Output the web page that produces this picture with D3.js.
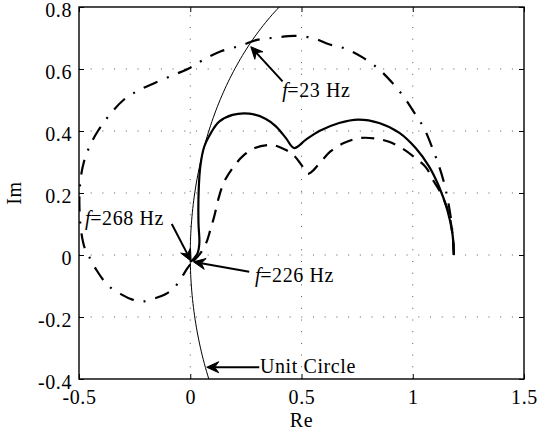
<!DOCTYPE html>
<html>
<head>
<meta charset="utf-8">
<script src="https://cdn.jsdelivr.net/npm/d3@7"></script>
<style>
  html, body { margin: 0; padding: 0; background: #fff; }
  svg { display: block; }
  svg text { font-family: "Liberation Serif", "Times New Roman", Times, "DejaVu Serif", serif !important; fill: #000; letter-spacing: 0.6px; }
</style>
</head>
<body>
<svg id="chart" width="537" height="435"></svg>
<script>
// ---------- data ----------
const xTicks = [-0.5, 0, 0.5, 1, 1.5];
const yTicks = [-0.4, -0.2, 0, 0.2, 0.4, 0.6, 0.8];
const xTickLabels = ["-0.5", "0", "0.5", "1", "1.5"];
const yTickLabels = ["-0.4", "-0.2", "0", "0.2", "0.4", "0.6", "0.8"];
const xLabel = "Re";
const yLabel = "Im";

// solid curve [Re, Im]
const solidCurve = [
  [1.185, 0.0], [1.178, 0.071], [1.155, 0.146], [1.118, 0.221], [1.073, 0.286],
  [1.013, 0.345], [0.94, 0.394], [0.849, 0.426], [0.755, 0.437], [0.669, 0.426],
  [0.58, 0.40], [0.52, 0.372], [0.467, 0.345],
  [0.43, 0.377], [0.385, 0.415], [0.34, 0.439], [0.265, 0.456], [0.19, 0.452],
  [0.13, 0.43], [0.093, 0.394], [0.063, 0.35], [0.046, 0.29], [0.038, 0.21],
  [0.037, 0.103], [0.041, 0.039], [0.033, 0.006], [0.012, -0.015], [0.003, -0.022]
];

// dashed curve [Re, Im]
const dashedCurve = [
  [1.185, 0.0], [1.178, 0.071], [1.16, 0.14], [1.126, 0.20], [1.095, 0.237],
  [1.06, 0.282], [1.01, 0.314], [0.95, 0.345], [0.89, 0.366], [0.83, 0.376],
  [0.76, 0.377], [0.69, 0.361], [0.63, 0.334], [0.58, 0.295], [0.545, 0.268],
  [0.527, 0.262],
  [0.505, 0.285], [0.46, 0.325], [0.42, 0.342], [0.365, 0.355], [0.29, 0.345],
  [0.235, 0.318], [0.19, 0.28], [0.153, 0.237], [0.13, 0.19], [0.108, 0.125],
  [0.09, 0.08], [0.075, 0.045], [0.05, 0.01], [0.02, -0.015], [0.004, -0.024]
];

// dash-dot curve [Re, Im]
const dashDotCurve = [
  [1.185, 0.0], [1.18, 0.06], [1.17, 0.125], [1.157, 0.18], [1.138, 0.24],
  [1.113, 0.297], [1.084, 0.353], [1.05, 0.41], [1.006, 0.46], [0.96, 0.51],
  [0.906, 0.557], [0.85, 0.598], [0.78, 0.635], [0.70, 0.665], [0.624, 0.68],
  [0.55, 0.70], [0.467, 0.707], [0.38, 0.701], [0.30, 0.694], [0.225, 0.675],
  [0.138, 0.657], [0.06, 0.63], [0.0, 0.604], [-0.07, 0.582], [-0.16, 0.555],
  [-0.235, 0.53], [-0.30, 0.50], [-0.365, 0.45], [-0.415, 0.40], [-0.453, 0.35],
  [-0.478, 0.30], [-0.492, 0.25], [-0.498, 0.19], [-0.497, 0.135], [-0.49, 0.075],
  [-0.475, 0.024], [-0.455, -0.005], [-0.42, -0.05], [-0.37, -0.098], [-0.31, -0.127],
  [-0.26, -0.144], [-0.215, -0.15], [-0.16, -0.14], [-0.11, -0.126], [-0.072, -0.106],
  [-0.042, -0.076], [-0.015, -0.045], [0.0, -0.03]
];

// reference unit circle (centre, radius) in data units
const unitCircle = { cx: 1, cy: 0, r: 1 };

// annotations: arrow tail/tip and text anchor, in data units
const annotations = [
  { label: "=23 Hz", italic: "f", text: [0.413, 0.51], tail: [0.415, 0.56], tip: [0.272, 0.672] },
  { label: "=268 Hz", italic: "f", text: [-0.473, 0.097], tail: [-0.083, 0.1], tip: [0.004, -0.02] },
  { label: "=226 Hz", italic: "f", text: [0.291, -0.088], tail: [0.265, -0.054], tip: [0.014, -0.022] },
  { label: "Unit Circle", italic: "", text: [0.313, -0.382], tail: [0.31, -0.362], tip: [0.074, -0.362] }
];

// ---------- layout ----------
const svg = d3.select("#chart");
const L = 79, R = 524, T = 7, B = 379;
const x = d3.scaleLinear().domain([-0.5, 1.5]).range([L, R]);
const y = d3.scaleLinear().domain([-0.4, 0.8]).range([B, T]);
const FONT = '"Liberation Serif", "Times New Roman", serif';

svg.append("defs").append("clipPath").attr("id", "clip")
  .append("rect").attr("x", L).attr("y", T).attr("width", R - L).attr("height", B - T);

// grid
const grid = svg.append("g").attr("stroke", "#444").attr("stroke-width", 0.9)
  .attr("stroke-dasharray", "1,10.7");
xTicks.slice(1, -1).forEach(v => {
  grid.append("line").attr("x1", x(v)).attr("x2", x(v)).attr("y1", B).attr("y2", T);
});
yTicks.slice(1, -1).forEach(v => {
  grid.append("line").attr("x1", L).attr("x2", R).attr("y1", y(v)).attr("y2", y(v));
});

// axes (D3 axes, inward ticks)
const tickLen = 5;
const fs = 20;
const axB = svg.append("g").attr("transform", `translate(0,${B})`)
  .call(d3.axisBottom(x).tickValues(xTicks).tickSize(-tickLen).tickPadding(10)
    .tickFormat((d, i) => xTickLabels[i]));
const axT = svg.append("g").attr("transform", `translate(0,${T})`)
  .call(d3.axisTop(x).tickValues(xTicks).tickSize(-tickLen).tickFormat(""));
const axL = svg.append("g").attr("transform", `translate(${L},0)`)
  .call(d3.axisLeft(y).tickValues(yTicks).tickSize(-tickLen).tickPadding(7)
    .tickFormat((d, i) => yTickLabels[i]));
const axR = svg.append("g").attr("transform", `translate(${R},0)`)
  .call(d3.axisRight(y).tickValues(yTicks).tickSize(-tickLen).tickFormat(""));
[axB, axT, axL, axR].forEach(g => {
  g.attr("font-family", FONT).attr("font-size", fs);
  g.select(".domain").remove();
  g.selectAll(".tick line").attr("stroke", "#000").attr("stroke-width", 1);
  g.selectAll("text").attr("font-family", FONT).attr("font-size", fs).attr("fill", "#000");
});
axB.selectAll(".tick text").attr("dy", "0.72em").attr("y", 11);
axL.selectAll(".tick text").attr("dy", "0.48em");

// box
svg.append("rect").attr("x", L).attr("y", T).attr("width", R - L).attr("height", B - T)
  .attr("fill", "none").attr("stroke", "#000").attr("stroke-width", 1.4);

// axis labels
svg.append("text").attr("x", x(0.5)).attr("y", 427).attr("text-anchor", "middle")
  .attr("font-family", FONT).attr("font-size", fs).text(xLabel);
svg.append("text").attr("transform", `translate(21,${(T + B) / 2}) rotate(-90)`)
  .attr("text-anchor", "middle").attr("font-family", FONT).attr("font-size", fs).text(yLabel);

// curves
const line = d3.line().x(d => x(d[0])).y(d => y(d[1])).curve(d3.curveCatmullRom.alpha(0.5));
const plot = svg.append("g").attr("clip-path", "url(#clip)");

// unit circle points
const t0 = Math.PI - Math.asin(0.8), t1 = Math.PI + Math.asin(0.4);
const circPts = d3.range(0, 101).map(i => {
  const t = t0 + (t1 - t0) * i / 100;
  return [unitCircle.cx + unitCircle.r * Math.cos(t), unitCircle.cy + unitCircle.r * Math.sin(t)];
});
plot.append("path").attr("d", d3.line().x(d => x(d[0])).y(d => y(d[1]))(circPts))
  .attr("fill", "none").attr("stroke", "#000").attr("stroke-width", 1);

plot.append("path").attr("d", line(dashDotCurve)).attr("fill", "none")
  .attr("stroke", "#000").attr("stroke-width", 2.2).attr("stroke-dasharray", "15,10,2,10");
plot.append("path").attr("d", line(dashedCurve)).attr("fill", "none")
  .attr("stroke", "#000").attr("stroke-width", 2.2).attr("stroke-dasharray", "13,9");
plot.append("path").attr("d", line(solidCurve)).attr("fill", "none")
  .attr("stroke", "#000").attr("stroke-width", 2.2).attr("stroke-linejoin", "round");

// annotations
annotations.forEach(a => {
  const x1 = x(a.tail[0]), y1 = y(a.tail[1]), x2 = x(a.tip[0]), y2 = y(a.tip[1]);
  const ang = Math.atan2(y2 - y1, x2 - x1);
  const hl = 12, hw = 5.5, notch = 8;
  const bx = x2 - hl * Math.cos(ang), by = y2 - hl * Math.sin(ang);
  const nx = x2 - notch * Math.cos(ang), ny = y2 - notch * Math.sin(ang);
  const px = -Math.sin(ang), py = Math.cos(ang);
  svg.append("line").attr("x1", x1).attr("y1", y1).attr("x2", nx).attr("y2", ny)
    .attr("stroke", "#000").attr("stroke-width", 2);
  svg.append("path").attr("d",
    `M${x2},${y2}L${bx + px * hw},${by + py * hw}L${nx},${ny}L${bx - px * hw},${by - py * hw}Z`)
    .attr("fill", "#000").attr("stroke", "#000").attr("stroke-width", 1).attr("stroke-linejoin", "miter");
  const t = svg.append("text").attr("x", x(a.text[0])).attr("y", y(a.text[1]))
    .attr("font-family", FONT).attr("font-size", fs);
  if (a.italic) t.append("tspan").attr("font-style", "italic").text(a.italic);
  t.append("tspan").attr("dx", a.italic ? -1 : 0).text(a.label);
});
</script>
</body>
</html>
